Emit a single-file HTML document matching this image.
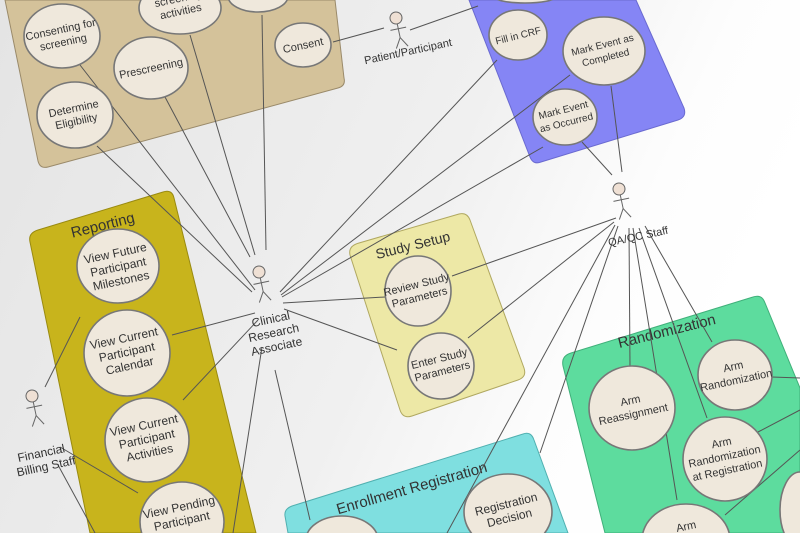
<!DOCTYPE html>
<html><head><meta charset="utf-8"><style>
html,body{margin:0;padding:0;width:800px;height:533px;overflow:hidden;background:#fff}
svg{display:block;overflow:hidden}
text{font-family:"Liberation Sans",sans-serif;fill:#333;text-anchor:middle}
.e{fill:#efe8dc;stroke:#777;stroke-width:1.6}
.l{stroke:#555;stroke-width:1;fill:none}
.a{stroke:#666;stroke-width:1;fill:none}
</style></head><body>
<svg width="800" height="533" viewBox="0 0 800 533" font-size="11" xmlns="http://www.w3.org/2000/svg">
<defs>
<linearGradient id="bg" x1="0" y1="0" x2="1" y2="0.3">
<stop offset="0" stop-color="#e4e4e4"/><stop offset="0.6" stop-color="#f0f0f0"/><stop offset="0.85" stop-color="#fdfdfd"/><stop offset="1" stop-color="#ffffff"/>
</linearGradient>
</defs>
<rect width="800" height="533" fill="url(#bg)"/>

<path d="M5,0 L335,0 L344,78 Q346,86 338,88 L48,167 Q40,169 38,161 Z" fill="#d4c29a" stroke="#9a8a6a" stroke-width="1"/>
<path d="M469,0 L636,0 L684,108 Q687,117 678,120 L541,162 Q533,165 530,157 Z" fill="#8585f5" stroke="#6a6ad0" stroke-width="1"/>
<path d="M38,230 L163,192 Q172,189 174,198 L256,533 L90,533 L30,242 Q28,233 38,230 Z" fill="#c8b41c" stroke="#998a10" stroke-width="1"/>
<path d="M359,243 L459,214 Q467,212 470,220 L524,368 Q527,377 518,380 L412,416 Q403,419 400,410 L350,255 Q348,246 359,243 Z" fill="#ede8a6" stroke="#b0a860" stroke-width="1"/>
<path d="M292,506 L523,434 Q531,431 534,440 L568,533 L288,533 L285,516 Q284,509 292,506 Z" fill="#7fdfe0" stroke="#50b0b0" stroke-width="1"/>
<path d="M571,353 L753,297 Q762,294 765,303 L800,388 L800,533 L605,533 L563,366 Q561,356 571,353 Z" fill="#5ddc9e" stroke="#40b07a" stroke-width="1"/>

<text x="103" y="230" font-size="15" transform="rotate(-14 103 226)">Reporting</text>
<text x="413" y="250" font-size="14" transform="rotate(-14 413 246)">Study Setup</text>
<text x="412" y="493" font-size="15" transform="rotate(-16 412 489)">Enrollment Registration</text>
<text x="667" y="336" font-size="15" transform="rotate(-14 667 332)">Randomization</text>

<g class="l">
<line x1="255" y1="290" x2="80" y2="65"/>
<line x1="252" y1="292" x2="97" y2="146"/>
<line x1="250" y1="257" x2="165" y2="97"/>
<line x1="255" y1="255" x2="190" y2="35"/>
<line x1="266" y1="250" x2="262" y2="15"/>
<line x1="280" y1="292" x2="497" y2="60"/>
<line x1="281" y1="295" x2="570" y2="75"/>
<line x1="282" y1="297" x2="543" y2="147"/>
<line x1="283" y1="303" x2="385" y2="297"/>
<line x1="284" y1="309" x2="397" y2="350"/>
<line x1="255" y1="313" x2="172" y2="335"/>
<line x1="258" y1="320" x2="183" y2="400"/>
<line x1="262" y1="347" x2="233" y2="533"/>
<line x1="275" y1="370" x2="310" y2="520"/>
<line x1="333" y1="42" x2="384" y2="28"/>
<line x1="410" y1="30" x2="478" y2="6"/>
<line x1="612" y1="175" x2="582" y2="142"/>
<line x1="622" y1="172" x2="611" y2="86"/>
<line x1="616" y1="218" x2="452" y2="276"/>
<line x1="614" y1="222" x2="468" y2="338"/>
<line x1="615" y1="225" x2="447" y2="533"/>
<line x1="618" y1="226" x2="540" y2="453"/>
<line x1="629" y1="228" x2="630" y2="367"/>
<line x1="633" y1="228" x2="677" y2="500"/>
<line x1="639" y1="228" x2="707" y2="418"/>
<line x1="645" y1="226" x2="712" y2="342"/>
<line x1="45" y1="387" x2="80" y2="317"/>
<line x1="60" y1="447" x2="138" y2="493"/>
<line x1="58" y1="465" x2="95" y2="533"/>
<line x1="772" y1="377" x2="800" y2="378"/>
<line x1="758" y1="432" x2="800" y2="410"/>
<line x1="725" y1="515" x2="800" y2="450"/>
</g>

<g>
<ellipse class="e" cx="62" cy="36" rx="38" ry="32"/>
<ellipse class="e" cx="180" cy="8" rx="41" ry="26"/>
<ellipse class="e" cx="258" cy="-4" rx="30" ry="16"/>
<ellipse class="e" cx="303" cy="45" rx="28" ry="22"/>
<ellipse class="e" cx="151" cy="68" rx="37" ry="31"/>
<ellipse class="e" cx="75" cy="115" rx="38" ry="33"/>
<ellipse class="e" cx="525" cy="-3" rx="30" ry="6"/>
<ellipse class="e" cx="518" cy="35" rx="29" ry="25"/>
<ellipse class="e" cx="604" cy="51" rx="41" ry="34"/>
<ellipse class="e" cx="565" cy="117" rx="32" ry="28"/>
<ellipse class="e" cx="118" cy="266" rx="41" ry="37"/>
<ellipse class="e" cx="127" cy="353" rx="43" ry="43"/>
<ellipse class="e" cx="147" cy="440" rx="42" ry="42"/>
<ellipse class="e" cx="182" cy="522" rx="42" ry="40"/>
<ellipse class="e" cx="418" cy="291" rx="33" ry="35"/>
<ellipse class="e" cx="441" cy="366" rx="33" ry="33"/>
<ellipse class="e" cx="508" cy="512" rx="44" ry="38"/>
<ellipse class="e" cx="342" cy="540" rx="36" ry="24"/>
<ellipse class="e" cx="632" cy="408" rx="43" ry="42"/>
<ellipse class="e" cx="735" cy="375" rx="37" ry="35"/>
<ellipse class="e" cx="725" cy="459" rx="42" ry="42"/>
<ellipse class="e" cx="686" cy="540" rx="44" ry="36"/>
<ellipse class="e" cx="800" cy="510" rx="20" ry="38"/>
</g>

<g font-size="11">
<text transform="rotate(-12 62 36)"><tspan x="62" y="33">Consenting for</tspan><tspan x="62" y="46">screening</tspan></text>
<text transform="rotate(-12 180 8)"><tspan x="180" y="2">screening</tspan><tspan x="180" y="15">activities</tspan></text>
<text x="303" y="49" transform="rotate(-12 303 45)">Consent</text>
<text x="151" y="72" transform="rotate(-12 151 68)">Prescreening</text>
<text transform="rotate(-12 75 115)"><tspan x="75" y="112">Determine</tspan><tspan x="75" y="125">Eligibility</tspan></text>
<text x="518" y="39" font-size="10" transform="rotate(-14 518 35)">Fill in CRF</text>
<text transform="rotate(-14 604 51)" font-size="10"><tspan x="604" y="48">Mark Event as</tspan><tspan x="604" y="61">Completed</tspan></text>
<text transform="rotate(-14 565 117)" font-size="10"><tspan x="565" y="113">Mark Event</tspan><tspan x="565" y="126">as Occurred</tspan></text>
<text transform="rotate(-12 118 266)" font-size="12"><tspan x="118" y="257">View Future</tspan><tspan x="118" y="271">Participant</tspan><tspan x="118" y="285">Milestones</tspan></text>
<text transform="rotate(-12 127 353)" font-size="12"><tspan x="127" y="342">View Current</tspan><tspan x="127" y="356">Participant</tspan><tspan x="127" y="370">Calendar</tspan></text>
<text transform="rotate(-12 147 440)" font-size="12"><tspan x="147" y="429">View Current</tspan><tspan x="147" y="443">Participant</tspan><tspan x="147" y="457">Activities</tspan></text>
<text transform="rotate(-12 182 522)" font-size="12"><tspan x="182" y="511">View Pending</tspan><tspan x="182" y="525">Participant</tspan></text>
<text transform="rotate(-14 418 291)"><tspan x="418" y="288">Review Study</tspan><tspan x="418" y="301">Parameters</tspan></text>
<text transform="rotate(-14 441 366)"><tspan x="441" y="362">Enter Study</tspan><tspan x="441" y="375">Parameters</tspan></text>
<text transform="rotate(-14 508 512)" font-size="12"><tspan x="508" y="508">Registration</tspan><tspan x="508" y="522">Decision</tspan></text>
<text transform="rotate(-12 632 408)"><tspan x="632" y="404">Arm</tspan><tspan x="632" y="418">Reassignment</tspan></text>
<text transform="rotate(-12 735 375)"><tspan x="735" y="370">Arm</tspan><tspan x="735" y="384">Randomization</tspan></text>
<text transform="rotate(-12 725 459)"><tspan x="725" y="446">Arm</tspan><tspan x="725" y="460">Randomization</tspan><tspan x="725" y="474">at Registration</tspan></text>
<text x="686" y="530" transform="rotate(-12 686 526)">Arm</text>
</g>

<g class="a">
<g transform="translate(396,18) rotate(-12)"><circle r="6" fill="#efe0d4"/><line x1="0" y1="6" x2="0" y2="20"/><line x1="-8" y1="11" x2="8" y2="11"/><line x1="0" y1="20" x2="-6" y2="30"/><line x1="0" y1="20" x2="6" y2="30"/></g>
<g transform="translate(259,272) rotate(-12)"><circle r="6" fill="#efe0d4"/><line x1="0" y1="6" x2="0" y2="20"/><line x1="-8" y1="11" x2="8" y2="11"/><line x1="0" y1="20" x2="-6" y2="30"/><line x1="0" y1="20" x2="6" y2="30"/></g>
<g transform="translate(619,189) rotate(-12)"><circle r="6" fill="#efe0d4"/><line x1="0" y1="6" x2="0" y2="20"/><line x1="-8" y1="11" x2="8" y2="11"/><line x1="0" y1="20" x2="-6" y2="30"/><line x1="0" y1="20" x2="6" y2="30"/></g>
<g transform="translate(32,396) rotate(-12)"><circle r="6" fill="#efe0d4"/><line x1="0" y1="6" x2="0" y2="20"/><line x1="-8" y1="11" x2="8" y2="11"/><line x1="0" y1="20" x2="-6" y2="30"/><line x1="0" y1="20" x2="6" y2="30"/></g>
</g>
<g font-size="11">
<text x="408" y="55" transform="rotate(-12 408 51)">Patient/Participant</text>
<text transform="rotate(-12 272 325)" font-size="12"><tspan x="272" y="323">Clinical</tspan><tspan x="272" y="337">Research</tspan><tspan x="272" y="351">Associate</tspan></text>
<text x="638" y="240" transform="rotate(-12 638 236)">QA/QC Staff</text>
<text transform="rotate(-12 42 457)" font-size="12"><tspan x="42" y="457">Financial</tspan><tspan x="44" y="471">Billing Staff</tspan></text>
</g>
</svg>
</body></html>
